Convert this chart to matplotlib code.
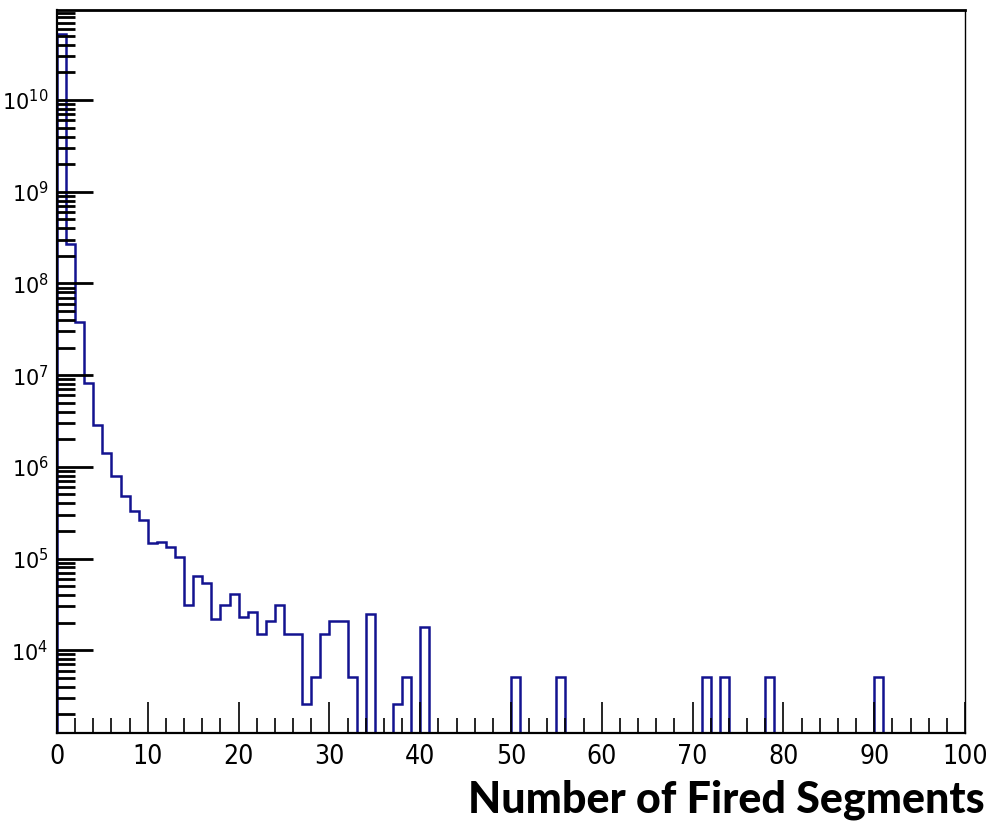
import numpy as np
import matplotlib
matplotlib.use('Agg')
import matplotlib.pyplot as plt
from matplotlib import font_manager
from matplotlib.ticker import FixedLocator, LogLocator, NullFormatter, FuncFormatter

# prefer a narrow sans for the axis numbers when one is available
narrow_fonts = [f for f in font_manager.fontManager.ttflist
                if 'Narrow' in f.name or 'Condensed' in f.name or f.stretch == 'condensed']
num_font = narrow_fonts[0].name if narrow_fonts else 'Liberation Sans'
num_stretch = narrow_fonts[0].stretch if narrow_fonts else 'normal'

plt.rcParams['mathtext.fontset'] = 'custom'
plt.rcParams['mathtext.rm'] = num_font
plt.rcParams['mathtext.it'] = num_font
plt.rcParams['mathtext.bf'] = num_font

# Entries per bin (bin width 1) for 0..40
low_counts = [5.3e10, 2.7e8, 3.8e7, 8.2e6, 2.85e6, 1.4e6, 8.0e5, 4.8e5, 3.3e5, 2.6e5,
              1.46e5, 1.5e5, 1.35e5, 1.05e5, 3.1e4, 6.4e4, 5.4e4, 2.2e4, 3.1e4, 4.1e4,
              2.3e4, 2.6e4, 1.5e4, 2.1e4, 3.1e4, 1.5e4, 1.5e4, 2.6e3, 5.1e3, 1.5e4,
              2.1e4, 2.1e4, 5.1e3, 0, 2.5e4, 0, 0, 2.6e3, 5.1e3, 0,
              1.8e4]
# Isolated filled bins in the tail
tail_bins = [50, 55, 71, 73, 78, 90]
tail_counts = [5.1e3, 5.1e3, 5.1e3, 5.1e3, 5.1e3, 5.1e3]
y_decades = [4, 5, 6, 7, 8, 9, 10]

n_bins = 100
counts = np.zeros(n_bins)
counts[:len(low_counts)] = low_counts
counts[tail_bins] = tail_counts
edges = np.arange(n_bins + 1)

y_min, y_max = 1.25e3, 9.6e10

fig = plt.figure(figsize=(9.89, 8.23), dpi=100)
ax = fig.add_axes([57 / 989, 1 - 733 / 823, (965 - 57) / 989, (733 - 10) / 823])

# empty bins drop below the frame so the outline falls to the axis
drawn = np.where(counts > 0, counts, y_min * 0.1)
ax.stairs(drawn, edges, baseline=y_min * 0.1, color='#131390', lw=1.8)

ax.set_yscale('log')
ax.set_xlim(0, 100)
ax.set_ylim(y_min, y_max)

for s in ax.spines.values():
    s.set_linewidth(1.6)
    s.set_color('black')
ax.spines['right'].set_linewidth(1.0)
ax.spines['top'].set_linewidth(2.0)

# x ticks: major every 10, minor every 2, drawn inward
ax.xaxis.set_major_locator(FixedLocator(np.arange(0, 101, 10)))
ax.xaxis.set_minor_locator(FixedLocator(np.arange(0, 101, 2)))
ax.tick_params(axis='x', which='major', direction='in', length=22, width=1.2,
               pad=8, labelsize=19, top=False)
ax.tick_params(axis='x', which='minor', direction='in', length=11, width=1.2, top=False)

ax.yaxis.set_major_locator(FixedLocator([10.0 ** d for d in y_decades]))
ax.yaxis.set_minor_locator(LogLocator(base=10, subs=np.arange(2, 10), numticks=20))
ax.yaxis.set_minor_formatter(NullFormatter())
ax.yaxis.set_major_formatter(FuncFormatter(lambda v, p: r'$10^{%d}$' % round(np.log10(v))))
ax.tick_params(axis='y', which='major', direction='in', length=26, width=2.0,
               pad=6, labelsize=15, right=False)
ax.tick_params(axis='y', which='minor', direction='in', length=13, width=2.0, right=False)

for lbl in ax.get_xticklabels():
    lbl.set_family(num_font)
    lbl.set_stretch(num_stretch)

fig.text(985 / 989, 1 - 800 / 823, 'Number of Fired Segments', ha='right', va='center',
         fontsize=31, fontweight='black', family=['Lato', 'DejaVu Sans'])

fig.savefig('out.png', dpi=100, facecolor='white')
